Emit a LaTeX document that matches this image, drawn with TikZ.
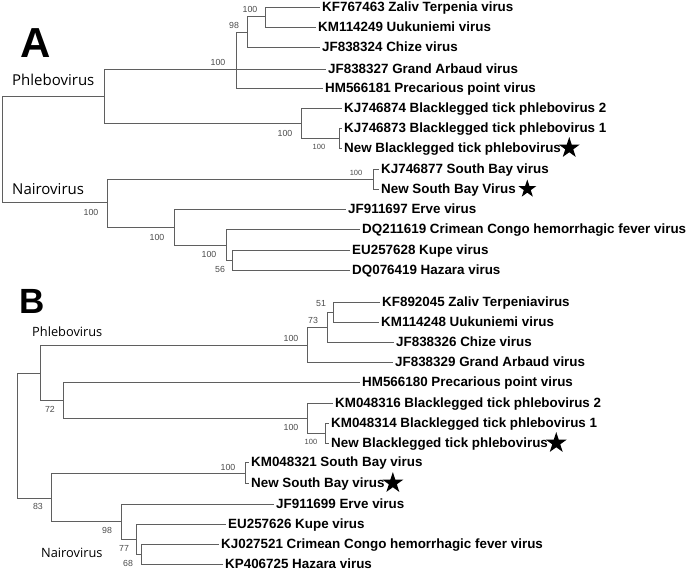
\documentclass[tikz,border=0pt]{standalone}
\usepackage{fontspec}
\setmainfont{Liberation Sans}
\newfontfamily\cladefont{Open Sans}
\usepackage{tikz}
\usetikzlibrary{positioning,shapes.geometric}
\definecolor{branchgray}{RGB}{95,95,95}
\definecolor{bootgray}{RGB}{75,75,75}

\begin{document}
\begin{tikzpicture}[x=1pt,y=-1pt,
    leaf/.style={anchor=west,inner xsep=2pt,inner ysep=0pt,text height=9.6pt,text depth=0pt,
      font=\bfseries\fontsize{13.4}{14}\selectfont},
    boot/.style={inner sep=0pt,text=bootgray,font=\fontsize{8.8}{9}\selectfont},
    smallboot/.style={inner sep=0pt,text=bootgray,font=\fontsize{7.5}{8}\selectfont},
    clade/.style={anchor=west,inner sep=0pt,font=\cladefont\fontsize{15}{16}\selectfont},
    smallclade/.style={anchor=west,inner sep=0pt,font=\cladefont\fontsize{12.8}{14}\selectfont},
    panel/.style={anchor=base west,inner sep=0pt,font=\bfseries\fontsize{42}{44}\selectfont},
    virusstar/.style={star,star points=5,star point ratio=2.6,fill=black,inner sep=0pt,minimum size=22pt},
    branch/.style={draw=branchgray,line width=0.9pt,to path={|- (\tikztotarget)}}]
  \useasboundingbox (0,0) rectangle (692,571);

  \node[panel] (panelA) at (20,57) {A};
  \node[clade] (phleboAlbl) at (12,80) {Phlebovirus};
  \node[clade] (nairoAlbl) at (12,189) {Nairovirus};

  \coordinate (rootA) at (2,150);
  \coordinate (phleboA) at (104,96);
  \coordinate (n100a) at (236,69);
  \coordinate (n98a) at (247,32);
  \coordinate (n100b) at (265,16);
  \coordinate (btpA) at (301,123);
  \coordinate (n100c) at (339,138);
  \coordinate (nairoA) at (107,202);
  \coordinate (sbA) at (373,179);
  \coordinate (n100d) at (174,227);
  \coordinate (n100e) at (226,245);
  \coordinate (n56) at (232,260);

  \node[leaf] (kf767463) at (320,7) {KF767463 Zaliv Terpenia virus};
  \node[leaf] (km114249) at (316,27) {KM114249 Uukuniemi virus};
  \node[leaf] (jf838324) at (320,47) {JF838324 Chize virus};
  \node[leaf] (jf838327) at (326,69) {JF838327 Grand Arbaud virus};
  \node[leaf] (hm566181) at (323,88) {HM566181 Precarious point virus};
  \node[leaf] (kj746874) at (342,108) {KJ746874 Blacklegged tick phlebovirus 2};
  \node[leaf] (kj746873) at (342,128) {KJ746873 Blacklegged tick phlebovirus 1};
  \node[leaf] (newbtpA) at (342,148) {New Blacklegged tick phlebovirus};
  \node[leaf] (kj746877) at (379,169) {KJ746877 South Bay virus};
  \node[leaf] (newsbA) at (379,189) {New South Bay Virus};
  \node[leaf] (jf911697) at (346,209) {JF911697 Erve virus};
  \node[leaf] (dq211619) at (360,229) {DQ211619 Crimean Congo hemorrhagic fever virus};
  \node[leaf] (eu257628) at (350,250) {EU257628 Kupe virus};
  \node[leaf] (dq076419) at (350,270) {DQ076419 Hazara virus};

  \node[virusstar] (starA1) [right=0pt of newbtpA] {};
  \node[virusstar,minimum size=19pt] (starA2) [right=4pt of newsbA] {};

  \path[branch]
    (rootA) edge (phleboA)
    (rootA) edge (nairoA)
    (phleboA) edge (n100a)
    (phleboA) edge (btpA)
    (n100a) edge (n98a)
    (n100a) edge (jf838327.west)
    (n100a) edge (hm566181.west)
    (n98a) edge (n100b)
    (n98a) edge (jf838324.west)
    (n100b) edge (kf767463.west)
    (n100b) edge (km114249.west)
    (btpA) edge (kj746874.west)
    (btpA) edge (n100c)
    (n100c) edge (kj746873.west)
    (n100c) edge (newbtpA.west)
    (nairoA) edge (sbA)
    (nairoA) edge (n100d)
    (sbA) edge (kj746877.west)
    (sbA) edge (newsbA.west)
    (n100d) edge (jf911697.west)
    (n100d) edge (n100e)
    (n100e) edge (dq211619.west)
    (n100e) edge (n56)
    (n56) edge (eu257628.west)
    (n56) edge (dq076419.west);

  \node[boot] (bsA1) at (250,9) {100};
  \node[boot] (bsA2) at (234,25) {98};
  \node[boot] (bsA3) at (218,62) {100};
  \node[boot] (bsA4) at (285,133) {100};
  \node[smallboot] (bsA5) at (319,147) {100};
  \node[smallboot] (bsA6) at (356,173) {100};
  \node[boot] (bsA7) at (91,212) {100};
  \node[boot] (bsA8) at (157,237) {100};
  \node[boot] (bsA9) at (209,254) {100};
  \node[boot] (bsA10) at (220,269) {56};

  \node[panel,font=\bfseries\fontsize{35}{37}\selectfont] (panelB) at (19.5,313) {B};
  \node[smallclade] (phleboBlbl) at (32,332) {Phlebovirus};
  \node[smallclade] (nairoBlbl) at (41,553) {Nairovirus};

  \coordinate (rootB) at (17,435);
  \coordinate (phleboB) at (40,373);
  \coordinate (n100f) at (307,345);
  \coordinate (n73) at (327,327);
  \coordinate (n51) at (333,312);
  \coordinate (n72) at (63,400);
  \coordinate (btpB) at (307,418);
  \coordinate (n100g) at (325,433);
  \coordinate (nairoB) at (51,498);
  \coordinate (sbB) at (245,473);
  \coordinate (n98b) at (121,521);
  \coordinate (n77) at (136,539);
  \coordinate (n68) at (141,554);

  \node[leaf] (kf892045) at (380,302) {KF892045 Zaliv Terpeniavirus};
  \node[leaf] (km114248) at (379,322) {KM114248 Uukuniemi virus};
  \node[leaf] (jf838326) at (394,342) {JF838326 Chize virus};
  \node[leaf] (jf838329) at (393,362) {JF838329 Grand Arbaud virus};
  \node[leaf] (hm566180) at (360,382) {HM566180 Precarious point virus};
  \node[leaf] (km048316) at (333,403) {KM048316 Blacklegged tick phlebovirus 2};
  \node[leaf] (km048314) at (329,423) {KM048314 Blacklegged tick phlebovirus 1};
  \node[leaf] (newbtpB) at (329,443) {New Blacklegged tick phlebovirus};
  \node[leaf] (km048321) at (249,462) {KM048321 South Bay virus};
  \node[leaf] (newsbB) at (249,483) {New South Bay virus};
  \node[leaf] (jf911699) at (274,504) {JF911699 Erve virus};
  \node[leaf] (eu257626) at (226,524) {EU257626 Kupe virus};
  \node[leaf] (kj027521) at (219,544) {KJ027521 Crimean Congo hemorrhagic fever virus};
  \node[leaf] (kp406725) at (223,564) {KP406725 Hazara virus};

  \node[virusstar] (starB1) [right=0pt of newbtpB] {};
  \node[virusstar] (starB2) [right=0pt of newsbB] {};

  \path[branch]
    (rootB) edge (phleboB)
    (rootB) edge (nairoB)
    (phleboB) edge (n100f)
    (phleboB) edge (n72)
    (n100f) edge (n73)
    (n100f) edge (jf838329.west)
    (n73) edge (n51)
    (n73) edge (jf838326.west)
    (n51) edge (kf892045.west)
    (n51) edge (km114248.west)
    (n72) edge (hm566180.west)
    (n72) edge (btpB)
    (btpB) edge (km048316.west)
    (btpB) edge (n100g)
    (n100g) edge (km048314.west)
    (n100g) edge (newbtpB.west)
    (nairoB) edge (sbB)
    (nairoB) edge (n98b)
    (sbB) edge (km048321.west)
    (sbB) edge (newsbB.west)
    (n98b) edge (jf911699.west)
    (n98b) edge (n77)
    (n77) edge (eu257626.west)
    (n77) edge (n68)
    (n68) edge (kj027521.west)
    (n68) edge (kp406725.west);

  \node[boot] (bsB1) at (321,304) {51};
  \node[boot] (bsB2) at (313,320) {73};
  \node[boot] (bsB3) at (291,338) {100};
  \node[boot] (bsB4) at (50,409) {72};
  \node[boot] (bsB5) at (291,427) {100};
  \node[smallboot] (bsB6) at (311,442) {100};
  \node[boot] (bsB7) at (228,467) {100};
  \node[boot] (bsB8) at (38,506) {83};
  \node[boot] (bsB9) at (107,530) {98};
  \node[boot] (bsB10) at (124,548) {77};
  \node[boot] (bsB11) at (128,563) {68};
\end{tikzpicture}
\end{document}
